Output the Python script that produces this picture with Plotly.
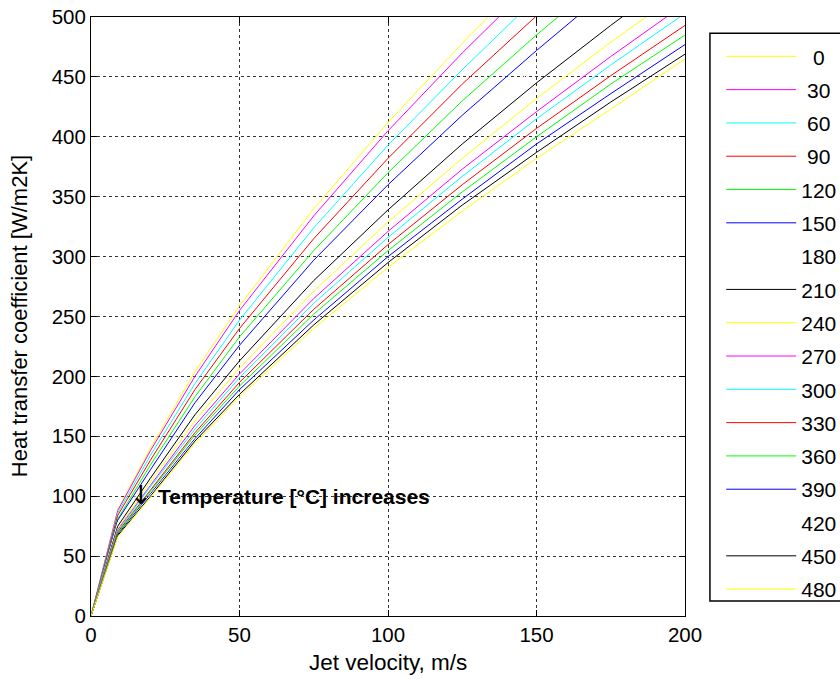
import plotly.graph_objects as go

# jet velocity samples (m/s)
velocity = [0, 9, 20, 35, 50, 75, 100, 125, 150, 175, 200]

# temperature of each curve (degC)
temperatures = [0, 30, 60, 90, 120, 150, 180, 210, 240, 270, 300, 330, 360, 390, 420, 450, 480]

# heat transfer coefficient [W/m2K], one list per temperature
h_0 = [0, 89, 140, 204, 259, 340, 412, 478, 541, 599, 655]
h_30 = [0, 88, 138, 200, 255, 334, 405, 470, 531, 589, 644]
h_60 = [0, 86, 134, 194, 247, 324, 393, 456, 516, 572, 625]
h_90 = [0, 84, 130, 189, 240, 315, 382, 444, 501, 556, 608]
h_120 = [0, 81, 126, 183, 233, 305, 370, 430, 485, 538, 589]
h_150 = [0, 80, 122, 178, 226, 297, 360, 418, 472, 524, 573]
h_180 = [0, 78, 119, 173, 220, 289, 350, 406, 459, 509, 557]
h_210 = [0, 75, 115, 168, 213, 280, 339, 394, 445, 493, 539]
h_240 = [0, 73, 112, 163, 207, 271, 329, 382, 432, 479, 523]
h_270 = [0, 72, 109, 159, 202, 265, 321, 373, 421, 467, 511]
h_300 = [0, 71, 108, 156, 199, 261, 316, 367, 415, 460, 503]
h_330 = [0, 70, 105, 153, 195, 256, 310, 360, 407, 451, 493]
h_360 = [0, 69, 104, 151, 192, 252, 305, 354, 400, 444, 485]
h_390 = [0, 68, 102, 148, 189, 247, 300, 348, 394, 436, 477]
h_420 = [0, 67, 101, 147, 187, 246, 298, 346, 391, 434, 474]
h_450 = [0, 67, 100, 146, 185, 243, 295, 343, 387, 429, 469]
h_480 = [0, 66, 99, 144, 183, 240, 291, 338, 382, 423, 465]

curves = [h_0, h_30, h_60, h_90, h_120, h_150, h_180, h_210, h_240,
          h_270, h_300, h_330, h_360, h_390, h_420, h_450, h_480]

# matlab style colour cycle 'ymcrgbwk'
colors = ['#ffff00', '#ff00ff', '#00ffff', '#ff0000', '#00ff00', '#0000ff', '#ffffff', '#000000']

# pad short labels so they sit roughly centred like the original legend
def pad(label):
    if len(label) == 1:
        return '\u2007' + label
    if len(label) == 2:
        return '\u2008' + label
    return label

fig = go.Figure()

for i, (t, h) in enumerate(zip(temperatures, curves)):
    fig.add_trace(go.Scatter(
        x=velocity,
        y=h,
        mode='lines',
        name=pad(str(t)),
        legendgroup=str(t),
        line=dict(color=colors[i % len(colors)], width=1),
    ))

font = "Liberation Sans, Arial, sans-serif"

# arrow + note
fig.add_annotation(
    x=16.8, y=101, xref='x', yref='y', text='↓',
    showarrow=False, xanchor='center', yanchor='middle',
    font=dict(family="DejaVu Sans", size=26, color='black'),
)
fig.add_annotation(
    x=22, y=100, xref='x', yref='y',
    text='<b>Temperature [°C] increases</b>',
    showarrow=False, xanchor='left', yanchor='middle',
    font=dict(family=font, size=21, color='black'),
)

# axis titles placed by hand, like the matlab figure
fig.add_annotation(
    x=0.5, y=-0.077, xref='paper', yref='paper', text='Jet velocity, m/s',
    showarrow=False, xanchor='center', yanchor='middle',
    font=dict(family=font, size=22.5, color='black'),
)
fig.add_annotation(
    x=-0.12, y=0.5, xref='paper', yref='paper', text='Heat transfer coefficient [W/m2K]',
    showarrow=False, xanchor='center', yanchor='middle', textangle=-90,
    font=dict(family=font, size=22, color='black'),
)

# legend frame, runs off the right edge like in the original
fig.add_shape(
    type='rect', xref='paper', yref='paper',
    x0=1.042, x1=1.45, y0=0.025, y1=0.973,
    line=dict(color='black', width=1.5), fillcolor='white', layer='below',
)

axis_style = dict(
    showline=True, linecolor='black', linewidth=1, mirror='ticks',
    ticks='inside', ticklen=6, tickcolor='black',
    showgrid=True, gridcolor='#333333', griddash='3px,3px', gridwidth=1,
    zeroline=False, ticklabeloverflow='allow',
    tickfont=dict(family=font, size=20.5, color='black'),
)

fig.update_xaxes(range=[0, 200], tickvals=[0, 50, 100, 150, 200], **axis_style)
fig.update_yaxes(range=[0, 500], tickvals=list(range(0, 501, 50)), **axis_style)

fig.update_layout(
    width=840, height=679,
    margin=dict(l=91, r=155, t=17, b=63, autoexpand=False),
    paper_bgcolor='white', plot_bgcolor='white',
    font=dict(family=font, color='black'),
    legend=dict(
        x=1.061, xanchor='left', y=0.968, yanchor='top',
        bgcolor='rgba(0,0,0,0)', borderwidth=0,
        font=dict(family=font, size=21, color='black'),
        tracegroupgap=3, itemwidth=70,
    ),
)

# drop the default 8px page margin so the figure fills the window exactly
fig.write_html(
    "out.html",
    config={'displayModeBar': False},
    post_script="document.body.style.margin='0';",
)
